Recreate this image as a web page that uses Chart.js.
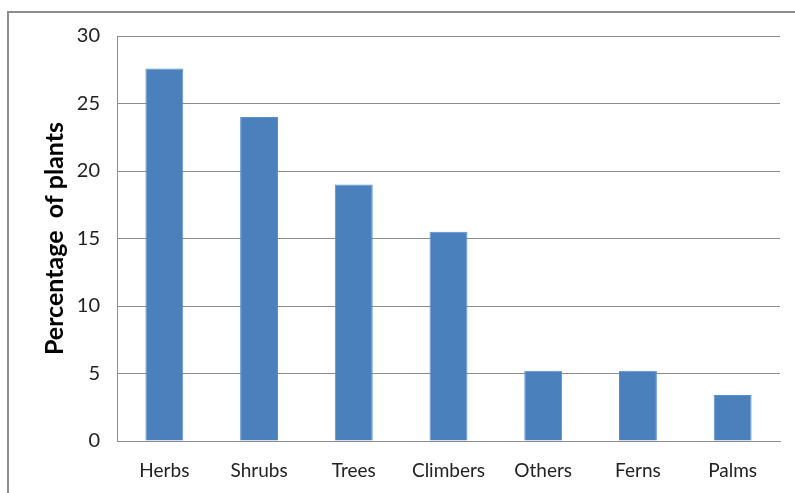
<!DOCTYPE html>
<html>
<head>
<meta charset="utf-8">
<script src="https://cdn.jsdelivr.net/npm/chart.js@4/dist/chart.umd.min.js"></script>
<style>
html,body{margin:0;padding:0;background:#fff;}
#wrap{position:absolute;left:0;top:0;width:795px;height:493px;}
</style>
</head>
<body>
<div id="wrap"><canvas id="c" width="795" height="493"></canvas></div>
<script>
const categories = ["Herbs","Shrubs","Trees","Climbers","Others","Ferns","Palms"];
const percentages = [27.6, 24.0, 19.0, 15.5, 5.2, 5.2, 3.4];
const yTicks = [0,5,10,15,20,25,30];

const frame = {
  id:'frame',
  beforeDraw(chart){
    const ctx = chart.ctx;
    ctx.save();
    ctx.fillStyle='#fff';
    ctx.fillRect(0,0,chart.width,chart.height);
    ctx.strokeStyle='#8c8c8c';
    ctx.lineWidth=2;
    ctx.strokeRect(8,12,chart.width,chart.height);
    ctx.restore();
  }
};

new Chart(document.getElementById('c'),{
  type:'bar',
  data:{labels:categories,datasets:[{data:percentages,backgroundColor:'#4a81bd',borderColor:'#5b8fcb',borderWidth:1,barPercentage:0.4,categoryPercentage:1}]},
  options:{
    responsive:false,animation:false,
    layout:{padding:{left:0,top:36,right:15,bottom:0}},
    plugins:{legend:{display:false},tooltip:{enabled:false}},
    scales:{
      x:{
        grid:{display:false,drawTicks:false},
        border:{display:true,color:'#8c8c8c',width:1},
        ticks:{color:'#222',font:{family:'Lato',size:19},padding:18,maxRotation:0},
        afterFit(s){s.height=52;}
      },
      y:{
        min:0,max:30,
        afterBuildTicks(s){s.ticks=yTicks.map(v=>({value:v}));},
        grid:{color:'#8c8c8c',drawTicks:false},
        border:{display:true,color:'#8c8c8c',width:1},
        ticks:{color:'#222',font:{family:'Lato',size:20},padding:17},
        title:{display:true,text:'Percentage  of plants',color:'#000',font:{family:'Lato',size:25,weight:'bold'},padding:{top:40,bottom:0}},
        afterFit(s){s.width=117;}
      }
    }
  },
  plugins:[frame]
});
</script>
</body>
</html>
